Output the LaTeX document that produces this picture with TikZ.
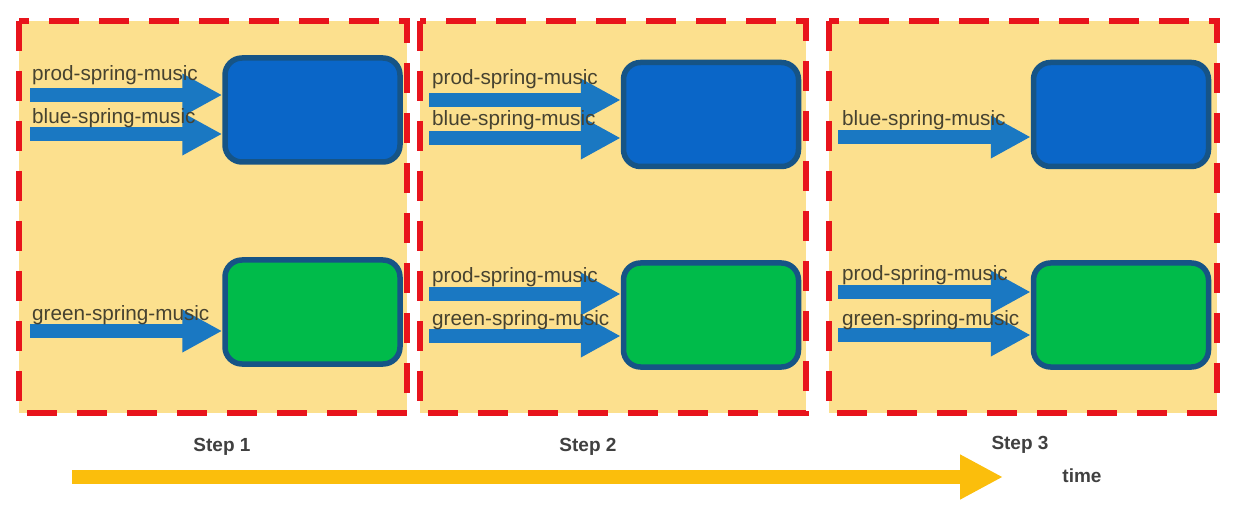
\documentclass[tikz,border=0pt]{standalone}
\usepackage{fontspec}
\setmainfont{Liberation Sans}
\usetikzlibrary{arrows.meta}
\definecolor{panelfill}{RGB}{252,224,142}
\definecolor{panelred}{RGB}{232,20,28}
\definecolor{boxblue}{RGB}{10,102,200}
\definecolor{boxgreen}{RGB}{0,187,74}
\definecolor{boxedge}{RGB}{22,84,134}
\definecolor{flowblue}{RGB}{26,120,194}
\definecolor{timeorange}{RGB}{251,190,12}
\definecolor{labeltext}{RGB}{70,66,48}
\definecolor{steptext}{RGB}{64,64,64}
\tikzset{
  panel/.style={fill=panelfill,draw=panelred,line width=5.5pt,dash pattern=on 30pt off 20pt},
  appbox/.style={draw=boxedge,line width=5.5pt,rounded corners=17pt,minimum width=175pt,minimum height=104pt,inner sep=0pt},
  bluebox/.style={appbox,fill=boxblue},
  greenbox/.style={appbox,fill=boxgreen},
  flow/.style={draw=flowblue,line width=13.5pt,-{Triangle[length=40pt,width=40pt]}},
  routelabel/.style={anchor=west,inner sep=0pt,text=labeltext,font=\fontsize{20.7}{22}\selectfont},
  steplabel/.style={inner sep=0pt,text=steptext,font=\bfseries\fontsize{19}{21}\selectfont},
  timeflow/.style={draw=timeorange,line width=14pt,-{Triangle[length=43pt,width=42pt]}}
}
\begin{document}
\begin{tikzpicture}[x=1pt,y=-1pt]
\useasboundingbox (0,0) rectangle (1235,505);
% panels
\draw[panel] (19,21) rectangle (407,413);
\draw[panel] (420,21) rectangle (806,413);
\draw[panel] (829,21) rectangle (1217,413);
% boxes
\node[bluebox] (b1) at (312.5,110) {};
\node[greenbox] (g1) at (312.5,312) {};
\node[bluebox] (b2) at (711,114.5) {};
\node[greenbox] (g2) at (711,315) {};
\node[bluebox] (b3) at (1121,114.5) {};
\node[greenbox] (g3) at (1121,315) {};
% arrow starts
\coordinate (p1a) at (30,95);
\coordinate (p1b) at (30,134);
\coordinate (p1c) at (30,331);
\coordinate (p2a) at (429,100);
\coordinate (p2b) at (429,138);
\coordinate (p2c) at (429,294);
\coordinate (p2d) at (429,336);
\coordinate (p3b) at (838,137);
\coordinate (p3c) at (838,292);
\coordinate (p3d) at (838,335);
% arrows
\draw[flow] (p1a) -- (p1a -| b1.west);
\draw[flow] (p1b) -- (p1b -| b1.west);
\draw[flow] (p1c) -- (p1c -| g1.west);
\draw[flow] (p2a) -- (p2a -| b2.west);
\draw[flow] (p2b) -- (p2b -| b2.west);
\draw[flow] (p2c) -- (p2c -| g2.west);
\draw[flow] (p2d) -- (p2d -| g2.west);
\draw[flow] (p3b) -- (p3b -| b3.west);
\draw[flow] (p3c) -- (p3c -| g3.west);
\draw[flow] (p3d) -- (p3d -| g3.west);
% labels
\node[routelabel] (l1a) at (32,75) {prod-spring-music};
\node[routelabel] (l1b) at (32,118) {blue-spring-music};
\node[routelabel] (l1c) at (32,315) {green-spring-music};
\node[routelabel] (l2a) at (432,79) {prod-spring-music};
\node[routelabel] (l2b) at (432,120) {blue-spring-music};
\node[routelabel] (l2c) at (432,277) {prod-spring-music};
\node[routelabel] (l2d) at (432,320) {green-spring-music};
\node[routelabel] (l3b) at (842,120) {blue-spring-music};
\node[routelabel] (l3c) at (842,275) {prod-spring-music};
\node[routelabel] (l3d) at (842,320) {green-spring-music};
% time
\coordinate (t0) at (72,477);
\coordinate (t1) at (1003,477);
\draw[timeflow] (t0) -- (t1);
\node[steplabel] (s1) at (222,447) {Step 1};
\node[steplabel] (s2) at (588,447) {Step 2};
\node[steplabel] (s3) at (1020,445) {Step 3};
\node[steplabel] (tm) at (1082,476) {time};
\end{tikzpicture}
\end{document}
